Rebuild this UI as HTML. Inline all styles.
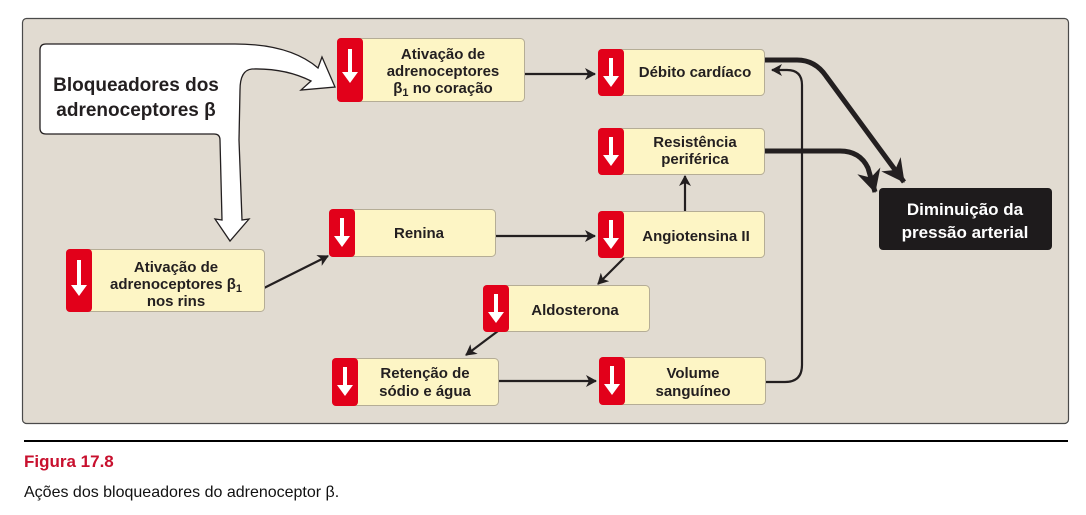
<!DOCTYPE html>
<html><head><meta charset="utf-8"><style>
body{margin:0;background:#fff;width:1086px;height:515px;overflow:hidden}
svg{display:block}
text{font-family:"Liberation Sans",sans-serif}
.b{font-weight:bold;font-size:15px;fill:#231f20;text-anchor:middle}
</style></head><body>
<svg width="1086" height="515" viewBox="0 0 1086 515" xmlns="http://www.w3.org/2000/svg">
<defs>
<marker id="ah" markerWidth="12" markerHeight="12" refX="10" refY="6" orient="auto" markerUnits="userSpaceOnUse"><path d="M0,0 L11,6 L0,12 L3,6 Z" fill="#231f20"/></marker>
<marker id="ahb" markerWidth="26" markerHeight="26" refX="22" refY="13" orient="auto" markerUnits="userSpaceOnUse"><path d="M0,1 L23,13 L0,25 L7,13 Z" fill="#231f20"/></marker>
</defs>
<rect x="22.5" y="18.5" width="1046" height="405" rx="4" fill="#e1dbd1" stroke="#4a4a4a" stroke-width="1.2"/>

<g stroke="#231f20" stroke-width="2.2" fill="none">
<line x1="524" y1="74" x2="595" y2="74" marker-end="url(#ah)"/>
<line x1="495" y1="236" x2="595" y2="236" marker-end="url(#ah)"/>
<line x1="264" y1="288" x2="328" y2="256" marker-end="url(#ah)"/>
<line x1="685" y1="211" x2="685" y2="176" marker-end="url(#ah)"/>
<line x1="624" y1="258" x2="598" y2="284" marker-end="url(#ah)"/>
<line x1="498" y1="331" x2="466" y2="355" marker-end="url(#ah)"/>
<line x1="499" y1="381" x2="596" y2="381" marker-end="url(#ah)"/>
<path d="M765,382 L785,382 Q802,382 802,365 L802,85 Q802,70 787,70 L772,70" marker-end="url(#ah)"/>
</g>
<g stroke="#231f20" stroke-width="5" fill="none">
<path d="M765,60 L797,60 Q815,60 826,76 L904,182" marker-end="url(#ahb)"/>
<path d="M765,151 L840,151 Q860,151 868,168 L875,192" marker-end="url(#ahb)"/>
</g>

<path d="M46,44 L235,44 Q290,44 318,68 L322,57 L335,87 L301,90 L311,81 Q285,68 252,69 Q240,70 240,90 L239,140 L242,220 L249,219 L230,241 L215,219 L222,220 L220,140 Q220,134 214,134 L46,134 Q40,134 40,128 L40,50 Q40,44 46,44 Z" fill="#fff" stroke="#231f20" stroke-width="1.3"/>
<text x="136" y="91" style="font-weight:bold;font-size:19px;fill:#231f20;text-anchor:middle">Bloqueadores dos</text>
<text x="136" y="116" style="font-weight:bold;font-size:19px;fill:#231f20;text-anchor:middle">adrenoceptores β</text>

<g stroke="#b5ad96" stroke-width="1" fill="#fdf5c5">
<rect x="337.5" y="38.5" width="187" height="63" rx="4"/>
<rect x="598.5" y="49.5" width="166" height="46" rx="4"/>
<rect x="598.5" y="128.5" width="166" height="46" rx="4"/>
<rect x="598.5" y="211.5" width="166" height="46" rx="4"/>
<rect x="329.5" y="209.5" width="166" height="47" rx="4"/>
<rect x="66.5" y="249.5" width="198" height="62" rx="4"/>
<rect x="483.5" y="285.5" width="166" height="46" rx="4"/>
<rect x="332.5" y="358.5" width="166" height="47" rx="4"/>
<rect x="599.5" y="357.5" width="166" height="47" rx="4"/>
</g>
<g fill="#e2001a">
<rect x="337" y="38" width="26" height="64" rx="4"/>
<rect x="598" y="49" width="26" height="47" rx="4"/>
<rect x="598" y="128" width="26" height="47" rx="4"/>
<rect x="598" y="211" width="26" height="47" rx="4"/>
<rect x="329" y="209" width="26" height="48" rx="4"/>
<rect x="66" y="249" width="26" height="63" rx="4"/>
<rect x="483" y="285" width="26" height="47" rx="4"/>
<rect x="332" y="358" width="26" height="48" rx="4"/>
<rect x="599" y="357" width="26" height="48" rx="4"/>
</g>
<g fill="#fff">
<path d="M348,49 h4 v23 h6 l-8,11 l-8,-11 h6 z"/>
<path d="M609,58 h4 v18 h6 l-8,11 l-8,-11 h6 z"/>
<path d="M609,137 h4 v18 h6 l-8,11 l-8,-11 h6 z"/>
<path d="M609,220 h4 v18 h6 l-8,11 l-8,-11 h6 z"/>
<path d="M340,218 h4 v18 h6 l-8,11 l-8,-11 h6 z"/>
<path d="M77,260 h4 v25 h6 l-8,11 l-8,-11 h6 z"/>
<path d="M494,294 h4 v18 h6 l-8,11 l-8,-11 h6 z"/>
<path d="M343,367 h4 v18 h6 l-8,11 l-8,-11 h6 z"/>
<path d="M610,366 h4 v18 h6 l-8,11 l-8,-11 h6 z"/>
</g>

<text class="b" x="443" y="59">Ativação de</text>
<text class="b" x="443" y="76">adrenoceptores</text>
<text class="b" x="443" y="93">β<tspan font-size="11" dy="3">1</tspan><tspan dy="-3"> no coração</tspan></text>
<text class="b" x="695" y="77">Débito cardíaco</text>
<text class="b" x="695" y="147">Resistência</text>
<text class="b" x="695" y="164">periférica</text>
<text class="b" x="696" y="241">Angiotensina II</text>
<text class="b" x="419" y="238">Renina</text>
<text class="b" x="176" y="272">Ativação de</text>
<text class="b" x="176" y="289">adrenoceptores β<tspan font-size="11" dy="3">1</tspan></text>
<text class="b" x="176" y="306">nos rins</text>
<text class="b" x="575" y="315">Aldosterona</text>
<text class="b" x="425" y="378">Retenção de</text>
<text class="b" x="425" y="396">sódio e água</text>
<text class="b" x="693" y="378">Volume</text>
<text class="b" x="693" y="396">sanguíneo</text>

<rect x="879" y="188" width="173" height="62" rx="4" fill="#1e1b1c"/>
<text x="965" y="215" style="font-weight:bold;font-size:17px;fill:#fff;text-anchor:middle">Diminuição da</text>
<text x="965" y="238" style="font-weight:bold;font-size:17px;fill:#fff;text-anchor:middle">pressão arterial</text>

<line x1="24" y1="441" x2="1068" y2="441" stroke="#000" stroke-width="2"/>
<text x="24" y="467" style="font-weight:bold;font-size:17px;fill:#c8102e">Figura 17.8</text>
<text x="24" y="497" style="font-size:16px;fill:#111">Ações dos bloqueadores do adrenoceptor β.</text>
</svg>
</body></html>
